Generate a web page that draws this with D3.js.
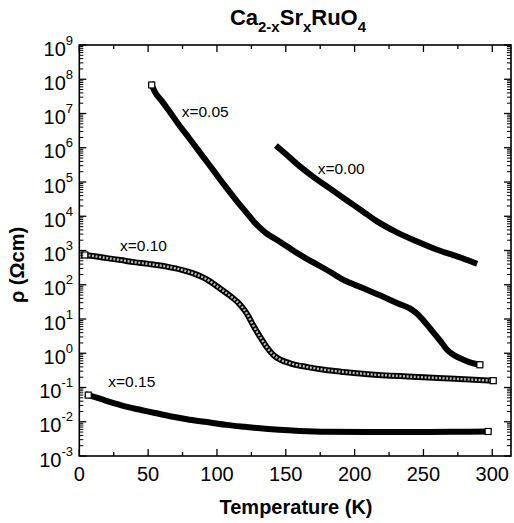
<!DOCTYPE html>
<html>
<head>
<meta charset="utf-8">
<script src="https://cdn.jsdelivr.net/npm/d3@7"></script>
<style>
  html, body { margin: 0; padding: 0; background: #fff; }
  svg { display: block; font-family: "Liberation Sans", Arial, Helvetica, sans-serif; }
</style>
</head>
<body>
<svg id="chart" width="514" height="523"></svg>
<script>
// ---- Data (Temperature in K, resistivity in Ohm cm) ----
const temp000 = [144.5, 150, 160, 170, 182, 195, 206, 216, 230, 245, 260, 275, 287];
const rho000  = [1.02e6, 6.6e5, 2.9e5, 1.41e5, 6.5e4, 2.8e4, 1.38e4, 7.2e3, 3.5e3, 1.86e3, 1.05e3, 660, 440];

const temp005 = [52.6, 55, 60, 65, 73, 80, 90, 97, 105, 115, 122, 127, 135, 146, 158, 170, 182, 192, 205, 220, 232, 240, 245, 250, 255, 260, 264, 267, 272, 279, 285, 291];
const rho005  = [6.8e7, 4.2e7, 2.3e7, 1.23e7, 4.3e6, 1.86e6, 5.4e5, 2.3e5, 8.5e4, 2.6e4, 1.2e4, 6.8e3, 3.4e3, 1.78e3, 850, 450, 240, 138, 83, 46, 28, 20.4, 14.8, 9.1, 5.2, 2.95, 1.86, 1.29, 0.89, 0.65, 0.52, 0.46];

const temp010 = [4, 10, 20, 30, 40, 50, 63.5, 75, 83, 92, 102, 110, 117, 122, 126, 131, 136, 141, 146, 153, 165, 178, 190, 210, 238, 260, 280, 300.7];
const rho010  = [740, 690, 600, 525, 457, 407, 339, 269, 214, 148, 79, 46, 25.7, 13.8, 6.9, 3.16, 1.55, 0.89, 0.65, 0.51, 0.40, 0.33, 0.29, 0.245, 0.21, 0.19, 0.174, 0.158];

const temp015 = [6.5, 15, 25, 34, 45, 55, 68, 80, 95, 107, 120, 135, 145, 160, 180, 210, 240, 270, 297];
const rho015  = [0.060, 0.047, 0.035, 0.0275, 0.022, 0.018, 0.014, 0.0115, 0.0095, 0.0081, 0.0071, 0.0062, 0.0058, 0.0054, 0.0051, 0.0050, 0.0050, 0.0051, 0.0052];

const seriesLabels = ["x=0.00", "x=0.05", "x=0.10", "x=0.15"];
const xTicks = [0, 50, 100, 150, 200, 250, 300];
const yExponents = [9, 8, 7, 6, 5, 4, 3, 2, 1, 0, -1, -2, -3];

// ---- Layout ----
const mLeft = 79.3, mRight = 511, mTop = 45, mBottom = 456;
const svg = d3.select("#chart");

const x = d3.scaleLinear().domain([0, 313.6]).range([mLeft, mRight]);
const y = d3.scaleLog().domain([1e-3, 1e9]).range([mBottom, mTop]);

// ---- Curves ----
const line = d3.line()
  .x(d => x(d[0]))
  .y(d => y(d[1]))
  .curve(d3.curveMonotoneX);

const series = [
  { t: temp000, r: rho000, label: seriesLabels[0], lx: 317.7, ly: 174, textured: false, ends: false },
  { t: temp005, r: rho005, label: seriesLabels[1], lx: 181.7, ly: 116.7, textured: false, ends: true },
  { t: temp010, r: rho010, label: seriesLabels[2], lx: 120, ly: 250.7, textured: true, ends: true },
  { t: temp015, r: rho015, label: seriesLabels[3], lx: 108.3, ly: 387.3, textured: false, ends: true }
];

const plot = svg.append("g");
series.forEach(s => {
  const pts = s.t.map((t, i) => [t, s.r[i]]);
  plot.append("path")
    .attr("d", line(pts))
    .attr("fill", "none")
    .attr("stroke", "#000")
    .attr("stroke-width", 6)
    .attr("stroke-linecap", "square")
    .attr("stroke-linejoin", "round");
  if (s.textured) {
    plot.append("path")
      .attr("d", line(pts))
      .attr("fill", "none")
      .attr("stroke", "#bbb")
      .attr("stroke-width", 2.4)
      .attr("stroke-dasharray", "2,1.6");
  }
  if (s.ends) {
    [pts[0], pts[pts.length - 1]].forEach(p => {
      plot.append("rect")
        .attr("x", x(p[0]) - 3)
        .attr("y", y(p[1]) - 3)
        .attr("width", 6)
        .attr("height", 6)
        .attr("fill", "#fff")
        .attr("stroke", "#000")
        .attr("stroke-width", 1.2);
    });
  }
  svg.append("text")
    .attr("x", s.lx)
    .attr("y", s.ly)
    .attr("font-size", 15.5)
    .attr("fill", "#000")
    .text(s.label);
});

// ---- Frame & ticks ----
const axes = svg.append("g").attr("stroke", "#000");
axes.append("rect")
  .attr("x", mLeft).attr("y", mTop)
  .attr("width", mRight - mLeft).attr("height", mBottom - mTop)
  .attr("fill", "none").attr("stroke-width", 1.6);

// x ticks (major 50, minor 25) on bottom and top, inward
d3.range(0, 313.6, 25).forEach(v => {
  const major = v % 50 === 0;
  const len = major ? 7 : 4;
  const px = x(v);
  axes.append("line").attr("x1", px).attr("x2", px).attr("y1", mBottom).attr("y2", mBottom - len).attr("stroke-width", 1.3);
  axes.append("line").attr("x1", px).attr("x2", px).attr("y1", mTop).attr("y2", mTop + len).attr("stroke-width", 1.3);
});

// y ticks: major decades, minor 2..9, left and right, inward
for (let e = -3; e <= 9; e++) {
  const py = y(Math.pow(10, e));
  axes.append("line").attr("x1", mLeft).attr("x2", mLeft + 7).attr("y1", py).attr("y2", py).attr("stroke-width", 1.3);
  axes.append("line").attr("x1", mRight).attr("x2", mRight - 7).attr("y1", py).attr("y2", py).attr("stroke-width", 1.3);
  if (e < 9) {
    for (let m = 2; m <= 9; m++) {
      const pm = y(m * Math.pow(10, e));
      axes.append("line").attr("x1", mLeft).attr("x2", mLeft + 4).attr("y1", pm).attr("y2", pm).attr("stroke-width", 1);
      axes.append("line").attr("x1", mRight).attr("x2", mRight - 4).attr("y1", pm).attr("y2", pm).attr("stroke-width", 1);
    }
  }
}

// x tick labels
svg.append("g").selectAll("text").data(xTicks).join("text")
  .attr("x", d => x(d))
  .attr("y", 480.7)
  .attr("text-anchor", "middle")
  .attr("font-size", 20)
  .text(d => d);

// y tick labels: 10^n
const yl = svg.append("g");
yExponents.forEach(e => {
  const py = y(Math.pow(10, e));
  const t = yl.append("text")
    .attr("x", 73)
    .attr("y", py + 10.5)
    .attr("text-anchor", "end")
    .attr("font-size", 20);
  t.append("tspan").text("10");
  t.append("tspan")
    .attr("font-size", 13)
    .attr("dy", -11)
    .text(String(e));
});

// Title
const title = svg.append("text")
  .attr("x", 298)
  .attr("y", 25)
  .attr("text-anchor", "middle")
  .attr("font-size", 22)
  .attr("font-weight", "bold");
title.append("tspan").text("Ca");
title.append("tspan").attr("font-size", 15).attr("dy", 7).text("2-x");
title.append("tspan").attr("dy", -7).text("Sr");
title.append("tspan").attr("font-size", 15).attr("dy", 7).text("x");
title.append("tspan").attr("dy", -7).text("RuO");
title.append("tspan").attr("font-size", 15).attr("dy", 7).text("4");

// Axis titles
svg.append("text")
  .attr("x", 296)
  .attr("y", 514)
  .attr("text-anchor", "middle")
  .attr("font-size", 20)
  .attr("font-weight", "bold")
  .text("Temperature (K)");

svg.append("text")
  .attr("transform", "translate(24,265) rotate(-90)")
  .attr("text-anchor", "middle")
  .attr("font-size", 20)
  .attr("font-weight", "bold")
  .text("ρ (Ωcm)");
</script>
</body>
</html>
